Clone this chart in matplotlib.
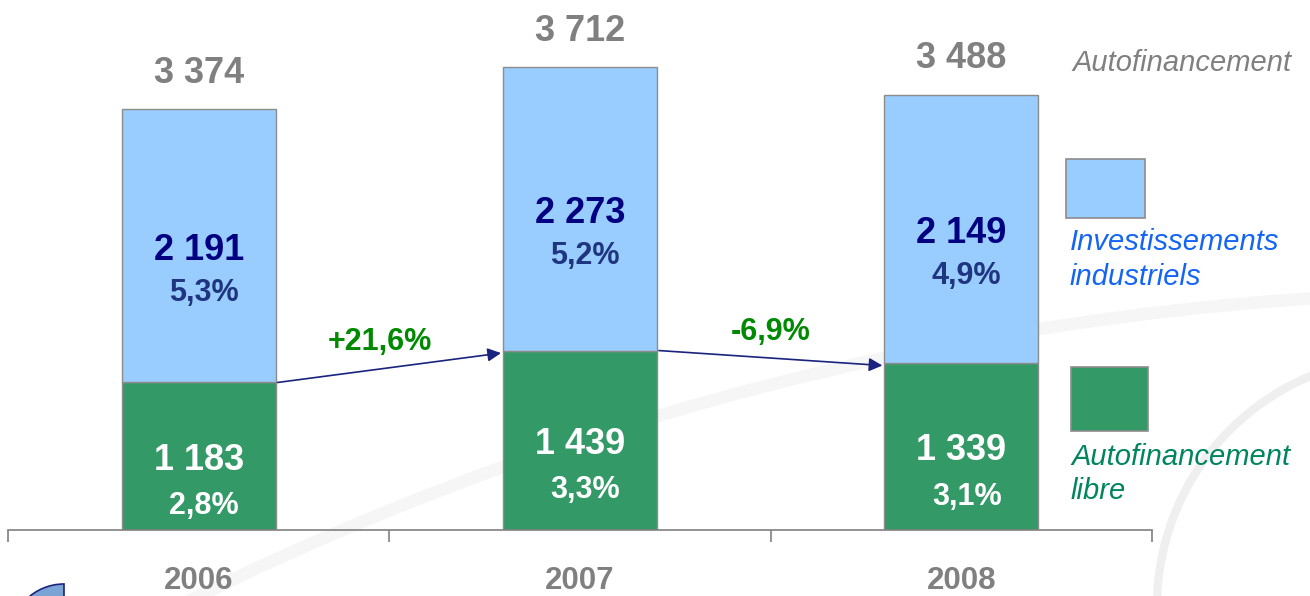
import numpy as np
import matplotlib.pyplot as plt
from matplotlib.patches import Arc, Rectangle, Wedge

# data
years = ['2006', '2007', '2008']
libre = [1183, 1439, 1339]          # autofinancement libre
invest = [2191, 2273, 2149]         # investissements industriels
totals = [3374, 3712, 3488]         # autofinancement
libre_pct = ['2,8%', '3,3%', '3,1%']
invest_pct = ['5,3%', '5,2%', '4,9%']
growth = ['+21,6%', '-6,9%']

plt.rcParams['font.family'] = ['Liberation Sans', 'DejaVu Sans']

W, H = 1310, 596
fig = plt.figure(figsize=(W / 100, H / 100), dpi=100)

# background layer in pixel coords (y goes down)
bg = fig.add_axes([0, 0, 1, 1], zorder=0)
bg.set_xlim(0, W)
bg.set_ylim(H, 0)
bg.axis('off')

# faint decorative arcs
bg.add_patch(Arc((1506, 3255), 2 * 2963, 2 * 2963, theta1=240, theta2=276, color='#f6f6f6', lw=9))
bg.add_patch(Arc((1406, 606), 2 * 249, 2 * 249, theta1=170, theta2=250, color='#efefef', lw=6))
bg.add_patch(Wedge((64, 638), 54, 180, 270, facecolor='#7ba3d3', edgecolor='#1a237e', lw=1.2))

# main chart
ax = fig.add_axes([8 / W, 66 / H, 1144 / W, 498.8 / H], zorder=1)
ax.patch.set_alpha(0)
x = np.arange(len(years))
w = 0.404
ax.bar(x, libre, w, color='#339966', edgecolor='#8c8c8c', lw=1)
ax.bar(x, invest, w, bottom=libre, color='#99ccff', edgecolor='#8c8c8c', lw=1)
ax.set_xlim(-0.5, 2.5)
ax.set_ylim(0, 4000)

for s in ['top', 'right', 'left']:
    ax.spines[s].set_visible(False)
ax.spines['bottom'].set_color('#808080')
ax.spines['bottom'].set_linewidth(1.2)
ax.set_yticks([])
ax.set_xticks(np.arange(-0.5, 3, 1))
ax.set_xticklabels([])
ax.tick_params(axis='x', direction='out', length=8.5, width=1.2, color='#808080')

def fmt(v):
    return f"{v:,}".replace(',', ' ')

for i in range(len(years)):
    ax.annotate(years[i], (x[i], 0), xytext=(0, -37), textcoords='offset points',
                ha='center', va='center', fontsize=22.5, fontweight='bold', color='#808080',
                annotation_clip=False)
    ax.annotate(fmt(totals[i]), (x[i], libre[i] + invest[i]),
                xytext=(0, 26), textcoords='offset points', ha='center', va='center',
                fontsize=26, fontweight='bold', color='#808080', annotation_clip=False)
    ax.annotate(fmt(invest[i]), (x[i], libre[i] + invest[i] / 2), xytext=(0, -3.5),
                textcoords='offset points', ha='center', va='center',
                fontsize=26, fontweight='bold', color='#000080')
    ax.annotate(invest_pct[i], (x[i], libre[i] + invest[i] / 2), xytext=(3.5, -34),
                textcoords='offset points', ha='center', va='center',
                fontsize=22, fontweight='bold', color='#1f3580')
    ax.annotate(fmt(libre[i]), (x[i], libre[i] / 2), xytext=(0, -3),
                textcoords='offset points', ha='center', va='center',
                fontsize=26, fontweight='bold', color='white')
    ax.annotate(libre_pct[i], (x[i], libre[i] / 2), xytext=(4, -36),
                textcoords='offset points', ha='center', va='center',
                fontsize=22, fontweight='bold', color='white')

# growth arrows
dxs = [-7, 0]
for i in range(len(growth)):
    ax.annotate('', xy=(x[i + 1] - w / 2 - 0.005, libre[i + 1] - 20),
                xytext=(x[i] + w / 2 + 0.005, libre[i]),
                arrowprops=dict(arrowstyle='-|>', color='#1a237e', lw=1.2,
                                mutation_scale=20, shrinkA=0, shrinkB=0))
    ax.annotate(growth[i], (x[i] + 0.5, (libre[i] + libre[i + 1]) / 2),
                xytext=(dxs[i], 18), textcoords='offset points', ha='center', va='center',
                fontsize=22, fontweight='bold', color='#008a00')

# legend
bg.text(1072, 63, 'Autofinancement', fontsize=21, style='italic', color='#808080',
        ha='left', va='center')
bg.add_patch(Rectangle((1066, 159), 79, 59, facecolor='#99ccff', edgecolor='#8c8c8c', lw=1.2))
bg.text(1070, 242, 'Investissements', fontsize=21, style='italic',
        color='#1565f5', ha='left', va='center')
bg.text(1070, 277, 'industriels', fontsize=21, style='italic',
        color='#1565f5', ha='left', va='center')
bg.add_patch(Rectangle((1071, 367), 77, 64, facecolor='#339966', edgecolor='#8c8c8c', lw=1.2))
bg.text(1071, 457, 'Autofinancement', fontsize=21, style='italic',
        color='#00855f', ha='left', va='center')
bg.text(1071, 491, 'libre', fontsize=21, style='italic',
        color='#00855f', ha='left', va='center')

fig.savefig('out.png', dpi=100)
